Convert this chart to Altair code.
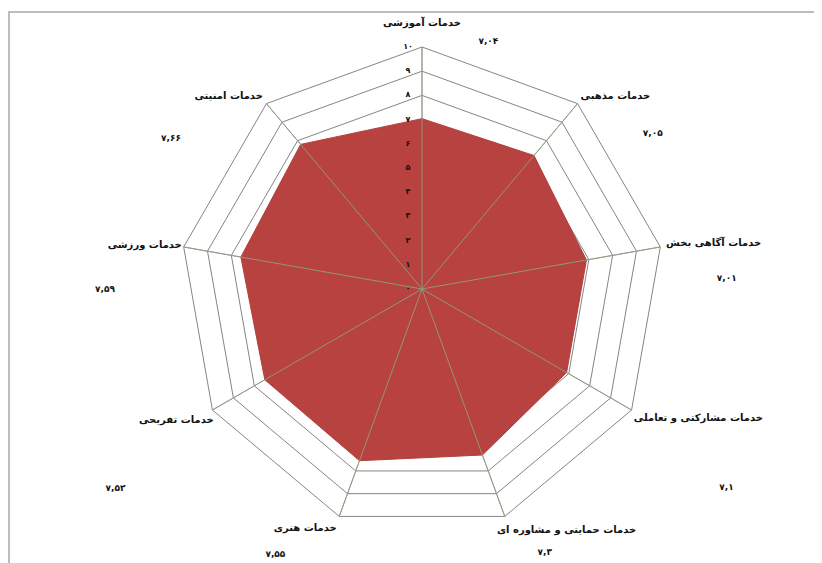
import math
import altair as alt
import pandas as pd

categories = [
    "خدمات آموزشی",
    "خدمات مذهبی",
    "خدمات آگاهی بخش",
    "خدمات مشارکتی و تعاملی",
    "خدمات حمایتی و مشاوره ای",
    "خدمات هنری",
    "خدمات تفریحی",
    "خدمات ورزشی",
    "خدمات امنیتی",
]
values = [7.04, 7.2, 6.9, 6.9, 7.3, 7.55, 7.5, 7.6, 7.8]
value_labels = ["۷,۰۴", "۷,۰۵", "۷,۰۱", "۷,۱", "۷,۳", "۷,۵۵", "۷,۵۲", "۷,۵۹", "۷,۶۶"]
tick_values = list(range(0, 11))
tick_labels = ["۰", "۱", "۲", "۳", "۴", "۵", "۶", "۷", "۸", "۹", "۱۰"]

# label layout (angle in degrees clockwise from top, radius in axis units)
cat_label_pos = [(0, 11.0), (45, 11.3), (81, 12.2), (115, 12.6), (149, 11.6),
                 (206, 11.0), (242, 11.5), (279, 11.6), (315, 11.3)]
val_label_pos = [(15, 10.6), (56, 11.5), (88, 12.6), (123, 15.0), (155, 12.0),
                 (209, 12.5), (237, 15.1), (270, 13.1), (301, 12.1)]

n = len(categories)
angles = [360.0 * i / n for i in range(n)]


def pxy(angle, r):
    a = math.radians(angle)
    return r * math.sin(a), r * math.cos(a)


W, H = 806, 555
U = 24.2
CX, CY = 414, 281
xdom = [-CX / U, (W - CX) / U]
ydom = [-(H - CY) / U, CY / U]
xs = alt.Scale(domain=xdom, nice=False, zero=False)
ys = alt.Scale(domain=ydom, nice=False, zero=False)

# grid rings
ring_rows = []
for lvl in range(1, 11):
    for k in range(n + 1):
        x, y = pxy(angles[k % n], lvl)
        ring_rows.append({"ring": lvl, "o": k, "x": x, "y": y})
rings_df = pd.DataFrame(ring_rows)

# spokes
spoke_rows = []
for i in range(n):
    x, y = pxy(angles[i], 10)
    spoke_rows.append({"s": i, "o": 0, "x": 0.0, "y": 0.0})
    spoke_rows.append({"s": i, "o": 1, "x": x, "y": y})
spokes_df = pd.DataFrame(spoke_rows)

# data polygon
poly_rows = []
for k in range(n + 1):
    i = k % n
    x, y = pxy(angles[i], values[i])
    poly_rows.append({"o": k, "x": x, "y": y, "cat": categories[i], "v": values[i]})
poly_df = pd.DataFrame(poly_rows)

# tick labels along the top axis
ticks_df = pd.DataFrame({"x": [0.0] * len(tick_values), "y": tick_values, "t": tick_labels})

cat_df = pd.DataFrame({
    "x": [pxy(a, r)[0] for a, r in cat_label_pos],
    "y": [pxy(a, r)[1] for a, r in cat_label_pos],
    "t": categories,
})
val_df = pd.DataFrame({
    "x": [pxy(a, r)[0] for a, r in val_label_pos],
    "y": [pxy(a, r)[1] for a, r in val_label_pos],
    "t": value_labels,
})

X = lambda: alt.X("x:Q", scale=xs, axis=None)
Y = lambda: alt.Y("y:Q", scale=ys, axis=None)

rings = alt.Chart(rings_df).mark_line(color="#858585", strokeWidth=1).encode(
    x=X(), y=Y(), detail="ring:N", order="o:Q")

spokes_under = alt.Chart(spokes_df).mark_line(color="#9a9a9a", strokeWidth=1).encode(
    x=X(), y=Y(), detail="s:N", order="o:Q")

poly = alt.Chart(poly_df).mark_line(
    fill="#b8423f", stroke="#b0403c", strokeWidth=1, fillOpacity=1
).encode(x=X(), y=Y(), order="o:Q")

spokes_over = alt.Chart(spokes_df).mark_line(color="#8ea07e", strokeWidth=1, opacity=0.9).encode(
    x=X(), y=Y(), detail="s:N", order="o:Q")

ticks = alt.Chart(ticks_df).mark_text(
    font="DejaVu Sans", fontSize=8, fontWeight="bold", color="#111", dx=-14, align="center",
    baseline="middle"
).encode(x=X(), y=Y(), text="t:N")

cats = alt.Chart(cat_df).mark_text(
    font="DejaVu Sans", fontSize=10, fontWeight="bold", color="#111", align="center",
    baseline="middle"
).encode(x=X(), y=Y(), text="t:N")

vals = alt.Chart(val_df).mark_text(
    font="DejaVu Sans", fontSize=9, fontWeight="bold", color="#111", align="center",
    baseline="middle"
).encode(x=X(), y=Y(), text="t:N")

border_top = alt.Chart(pd.DataFrame({"a": [0]})).mark_rule(color="#bdbdbd", strokeWidth=2).encode(
    x=alt.value(0), x2=alt.value(W), y=alt.value(4))
border_left = alt.Chart(pd.DataFrame({"a": [0]})).mark_rule(color="#bdbdbd", strokeWidth=2).encode(
    x=alt.value(1), y=alt.value(4), y2=alt.value(H))

chart = alt.layer(
    rings, spokes_under, poly, spokes_over, ticks, cats, vals, border_top, border_left
).properties(
    width=W, height=H, autosize=alt.AutoSizeParams(type="none"), padding=0,
    background="white"
).configure_view(stroke=None)

chart.save("out.html", embed_options={"renderer": "svg", "actions": False})
